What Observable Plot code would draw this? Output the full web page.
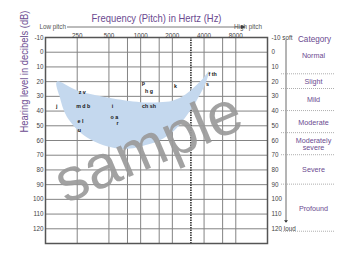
<!DOCTYPE html>
<html><head><meta charset="utf-8">
<script src="https://cdn.jsdelivr.net/npm/d3@7"></script>
<script src="https://cdn.jsdelivr.net/npm/@observablehq/plot@0.6"></script>
<style>
html,body{margin:0;padding:0;background:#fff;}
svg{display:block;}
</style>
</head><body><div id="chart"></div>
<script>
// ---- data ----
const freqTicks = [250, 500, 1000, 2000, 4000, 8000];
const gridFreqSolid = [250, 500, 750, 1000, 1500, 2000, 4000, 6000, 8000];
const gridFreqDotted = [3000];
const dbTicks = [-10, 0, 10, 20, 30, 40, 50, 60, 70, 80, 90, 100, 110, 120];
const gridDb = [0, 10, 20, 30, 40, 50, 60, 70, 80, 90, 100, 110, 120];

// speech banana outline (upper edge left->right, then lower edge right->left)
const bananaFreq = [160, 250, 500, 1000, 1500, 2000, 2500, 3200, 4000, 4450, 4200, 3700, 3000, 2100, 1500, 1000, 800, 550, 310, 200, 170];
const bananaDb   = [20,  26,  31,  34,   34,   33,   30,   24,   17,   13,   20,   28,   39,   53,   60,   64,   65.5, 65,  58,  44,  30];

const soundLabels = ["j", "z v", "m d b", "e l", "u", "i", "o a", "r", "p", "h g", "ch sh", "k", "f th", "s"];
const soundFreq   = [160, 279,  285,     268,   262, 539, 564,   602, 1064, 1200, 1200,   2144, 4830, 4300];
const soundDb     = [37,  27,   37,      47,    53,  37,  44,    48,  21,   26.5, 37,     23,   15,   22];

const categoryNames = ["Normal", "Slight", "Mild", "Moderate", "Moderately\nsevere", "Severe", "Profound"];
const categoryFrom  = [-10, 15, 25, 40, 55, 70, 90];
const categoryTo    = [15, 25, 40, 55, 70, 90, 122];

const titleText = "Frequency (Pitch) in Hertz (Hz)";
const yLabelText = "Hearing level in decibels (dB)";
const categoryTitle = "Category";
const watermark = "sample";

// ---- build tables ----
const banana = bananaFreq.map((f, i) => ({f, db: bananaDb[i]}));
const sounds = soundLabels.map((t, i) => ({t, f: soundFreq[i], db: soundDb[i]}));
const categories = categoryNames.map((n, i) => ({n, mid: (categoryFrom[i] + categoryTo[i]) / 2, to: categoryTo[i]}));

const purple = "#6b4a90";
const sans = "'Liberation Sans',Arial,sans-serif";

const plot = Plot.plot({
  width: 350, height: 253,
  marginLeft: 45, marginRight: 83, marginTop: 37, marginBottom: 10,
  style: {fontFamily: sans, background: "#fff", overflow: "visible"},
  x: {type: "log", domain: [125, 16000], axis: null},
  y: {domain: [130, -10], axis: null},
  marks: [
    Plot.ruleY(gridDb, {stroke: "#848484", strokeWidth: 1}),
    Plot.ruleX(gridFreqSolid, {stroke: "#848484", strokeWidth: 1}),
    Plot.ruleX(gridFreqDotted, {stroke: "#333", strokeWidth: 1.6, strokeDasharray: "1.5,1"}),
    Plot.line(banana, {x: "f", y: "db", curve: "catmull-rom-closed", fill: "#c4d8ee", stroke: "none"}),
    Plot.text(sounds, {x: "f", y: "db", text: "t", fontSize: 5.3, fontWeight: "bold", fill: "#111"}),
    Plot.text([watermark], {frameAnchor: "middle", dx: -8, dy: 7, rotate: -23, fontSize: 61, fill: "#9a9a9a", fillOpacity: 0.92}),
    Plot.frame({stroke: "#555", strokeWidth: 1.5}),
    Plot.text(freqTicks, {x: d => d, frameAnchor: "top", dy: -4, text: d => String(d), fontSize: 6.3, fill: "#444"}),
    Plot.text(dbTicks, {y: d => d, frameAnchor: "left", dx: -2, textAnchor: "end", text: d => String(d), fontSize: 6.3, fill: "#444"}),
    Plot.text(dbTicks, {y: d => d, frameAnchor: "right", dx: 4, textAnchor: "start", fontSize: 6.3, fill: "#444",
      text: d => d === -10 ? "-10 soft" : d === 120 ? "120 loud" : String(d)}),
    Plot.text(categories, {y: "mid", text: "n", frameAnchor: "right", dx: 46, textAnchor: "middle", fill: purple, fontSize: 7.2, lineHeight: 1.05}),
    Plot.text([categoryTitle], {frameAnchor: "top-right", dx: 47, dy: -2, textAnchor: "middle", fill: purple, fontSize: 9}),
    Plot.text([titleText], {frameAnchor: "top", dy: -23, fill: purple, fontSize: 10.5}),
    Plot.text([yLabelText], {frameAnchor: "left", dx: -21, dy: -8, rotate: -90, fill: purple, fontSize: 10})
  ]
});

document.getElementById("chart").appendChild(plot);

// ---- condensed look for headings (same text, squeezed to the reference width) ----
const svg = d3.select(plot);
const squeeze = (txt, len) => svg.selectAll("text").filter(function () { return this.textContent === txt; })
  .attr("textLength", len).attr("lengthAdjust", "spacingAndGlyphs");
squeeze(titleText, 130);
squeeze(yLabelText, 122);
squeeze(categoryTitle, 33);

// ---- annotations positioned with the plot's scales ----
const ys = plot.scale("y");
const yOf = v => ys.apply(v);
const frameRight = 350 - 83, frameTop = 37;

// pitch arrow
const g = svg.append("g").attr("font-family", sans).attr("font-size", 6.3).attr("fill", "#555");
const py = frameTop - 10;
g.append("text").attr("x", 66).attr("y", py).attr("dy", "0.32em").attr("text-anchor", "end").text("Low pitch");
g.append("line").attr("x1", 67).attr("x2", 242).attr("y1", py).attr("y2", py).attr("stroke", "#555").attr("stroke-width", 0.8);
g.append("path").attr("d", `M241,${py-2}L246,${py}L241,${py+2}Z`).attr("fill", "#333");
g.append("text").attr("x", 248).attr("y", py).attr("dy", "0.32em").text("High pitch");

// soft -> loud arrow
const ax = frameRight + 19;
svg.append("line").attr("x1", ax).attr("x2", ax).attr("y1", yOf(-8)).attr("y2", yOf(115)).attr("stroke", "#444").attr("stroke-width", 0.8);
svg.append("path").attr("d", `M${ax-2},${yOf(114.5)}L${ax},${yOf(115.5)+1}L${ax+2},${yOf(114.5)}Z`).attr("fill", "#333");

// category separators
svg.append("g").selectAll("line").data(categories).join("line")
  .attr("x1", frameRight + 14).attr("x2", frameRight + 67)
  .attr("y1", d => yOf(d.to)).attr("y2", d => yOf(d.to))
  .attr("stroke", "#999").attr("stroke-width", 0.8).attr("stroke-dasharray", "1,1");
</script>
</body></html>
